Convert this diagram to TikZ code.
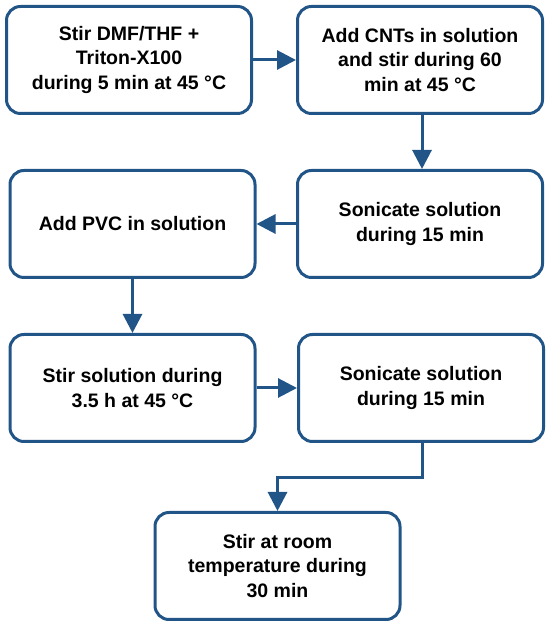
\documentclass[tikz,border=0pt]{standalone}
\usepackage{fontspec}
\setmainfont{Liberation Sans}
\usetikzlibrary{backgrounds,arrows.meta}
\definecolor{flowblue}{HTML}{225587}

\begin{document}
\begin{tikzpicture}[
    x=10pt, y=10pt,
    >={Triangle[length=19pt,width=19pt]},
    stepbox/.style={draw=flowblue, line width=3pt, rounded corners=14pt,
      minimum width=245pt, minimum height=107pt, align=center,
      font=\fontsize{19.5}{24.5}\selectfont\bfseries, fill=white},
    flow/.style={draw=flowblue, line width=3pt, ->}]

  \useasboundingbox (0,0) rectangle (55,62.8);

  % steps
  \node[stepbox] (dmf)  at (12.9,56.8)  {Stir DMF/THF +\\Triton-X100\\during 5 min at 45 °C};
  \node[stepbox] (cnt)  at (42.0,56.8)  {Add CNTs in solution\\and stir during 60\\min at 45 °C};
  \node[stepbox] (son1) at (42.0,40.4)  {Sonicate solution\\during 15 min};
  \node[stepbox] (pvc)  at (13.25,40.4) {Add PVC in solution};
  \node[stepbox] (stir) at (13.25,24.0) {Stir solution during\\3.5 h at 45 °C};
  \node[stepbox] (son2) at (42.1,24.0)  {Sonicate solution\\during 15 min};
  \node[stepbox] (room) at (27.75,6.2)  {Stir at room\\temperature during\\30 min};

  % connectors
  \draw[flow] (dmf)  -- (cnt);
  \draw[flow] (cnt.south -| 42.2,0) -- (son1.north -| 42.2,0);
  \draw[flow] (son1) -- (pvc);
  \draw[flow] (pvc)  -- (stir);
  \draw[flow] (stir) -- (son2);
  \coordinate (elbow) at (42.2,15.0);
  \draw[flow] (son2.south -| elbow) -- (elbow) -| (room.north);
\end{tikzpicture}
\end{document}
